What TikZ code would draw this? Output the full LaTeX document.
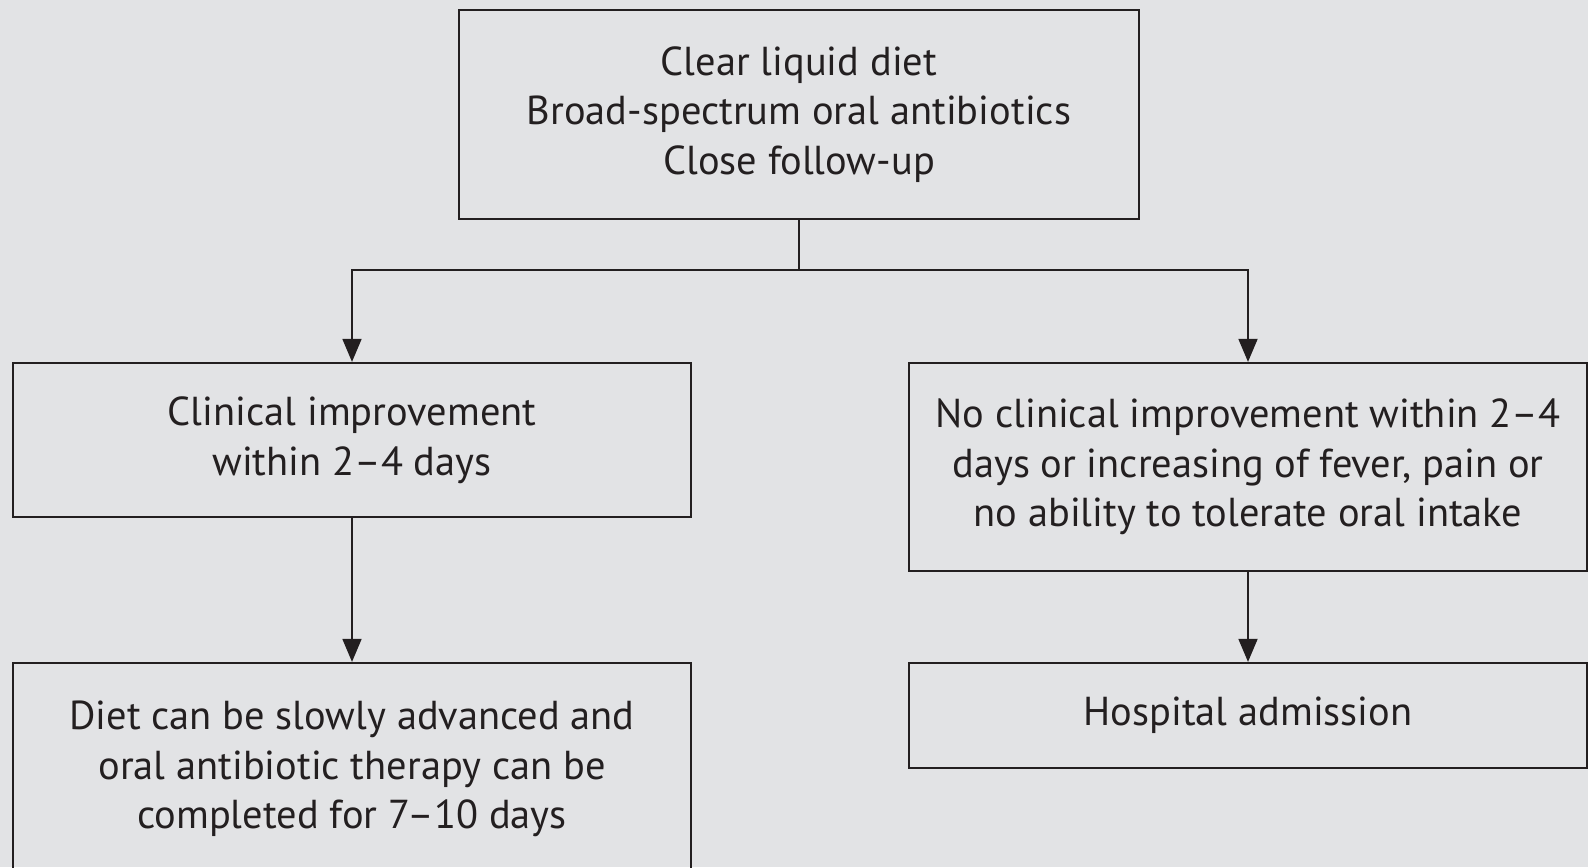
\documentclass[tikz,border=0pt]{standalone}
\usepackage{fontspec}
\setmainfont{PT Sans}
\usetikzlibrary{arrows.meta}

\definecolor{fondo}{RGB}{226,227,229}
\definecolor{trazo}{RGB}{35,31,32}

\tikzset{
  caja/.style={draw=trazo, line width=1.3pt, text=trazo, align=center,
    minimum width=13.56cm, inner sep=0pt,
    font=\fontsize{23}{28.2}\selectfont},
  flecha/.style={->, draw=trazo, line width=1pt}
}

\begin{document}
\begin{tikzpicture}[x=0.02cm, y=-0.02cm, >={Triangle[length=0.46cm, width=0.38cm]}]
            % Fondo
            \path[use as bounding box, fill=fondo] (0,0) rectangle (1588,867);

            % Cajas
            \node[caja, minimum width=13.6cm, minimum height=4.18cm] (diet) at (799,114.5)
              {Clear liquid diet\\Broad-spectrum oral antibiotics\\Close follow-up};
            \node[caja, minimum height=3.08cm] (better) at (352,440)
              {Clinical improvement\\within 2--4 days};
            \node[caja, minimum height=4.16cm] (worse) at (1248,467)
              {No clinical improvement within 2--4\\days or increasing of fever, pain or\\no ability to tolerate oral intake};
            \node[caja, minimum height=4.24cm] (advance) at (352,769)
              {Diet can be slowly advanced and\\oral antibiotic therapy can be\\completed for 7--10 days};
            \node[caja, minimum height=2.1cm] (admit) at (1248,715.5)
              {Hospital admission};

            % Flechas
            \coordinate (split) at (799,270);
            \draw[draw=trazo, line width=1pt] (diet.south) -- (split);
            \draw[flecha] (split) -| (better.north);
            \draw[flecha] (split) -| (worse.north);
            \draw[flecha] (better.south) -- (advance.north);
            \draw[flecha] (worse.south) -- (admit.north);
        \end{tikzpicture}
\end{document}
